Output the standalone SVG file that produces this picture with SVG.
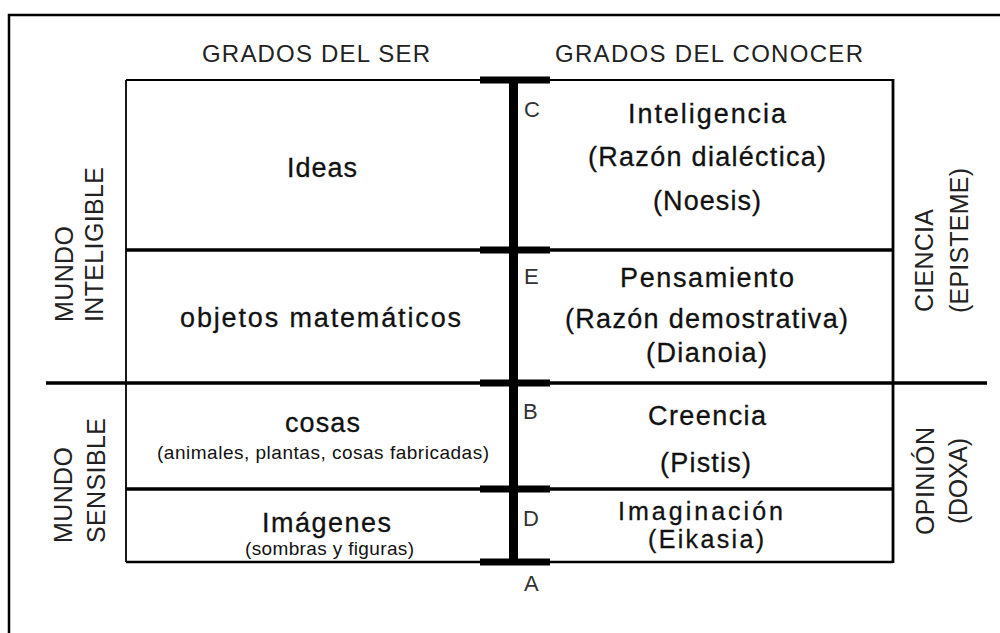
<svg xmlns="http://www.w3.org/2000/svg" width="1000" height="633" viewBox="0 0 1000 633">
<style>
.t{font-family:"Liberation Sans",Arial,sans-serif;fill:#111;}
.m{font-size:27px;stroke:#111;stroke-width:0.3px;}
.m2{font-size:25px;stroke:#111;stroke-width:0.3px;}
.s{font-size:19px;}
.h{font-size:24px;fill:#222;}
.side{font-size:25px;fill:#222;}
.lbl{font-size:22px;fill:#333;}
.ln{stroke:#000;fill:none;}
</style>
<rect width="1000" height="633" fill="#fff"/>
<path class="ln" d="M9,633 V15 H1000" stroke-width="2.5"/>
<g id="table">
<line class="ln" x1="126" y1="80" x2="893" y2="80" stroke-width="1.8"/>
<line class="ln" x1="126" y1="250" x2="893" y2="250" stroke-width="3.5"/>
<line class="ln" x1="46" y1="383" x2="987" y2="383" stroke-width="3.5"/>
<line class="ln" x1="126" y1="489" x2="893" y2="489" stroke-width="3.5"/>
<line class="ln" x1="126" y1="562" x2="893" y2="562" stroke-width="2.5"/>
<line class="ln" x1="126" y1="80" x2="126" y2="562" stroke-width="1.8"/>
<line class="ln" x1="893" y1="79" x2="893" y2="563" stroke-width="2.8"/>
</g>
<g id="connectors">
<rect x="509" y="77" width="9" height="488" fill="#000"/>
<rect x="480" y="76.5" width="70" height="7" fill="#000"/>
<rect x="480" y="246.5" width="70" height="7" fill="#000"/>
<rect x="480" y="379.5" width="70" height="7" fill="#000"/>
<rect x="480" y="485.5" width="70" height="7" fill="#000"/>
<rect x="480" y="558.5" width="70" height="7" fill="#000"/>
</g>
<g id="headers">
<text class="t h" x="202" y="62" textLength="228" lengthAdjust="spacing">GRADOS DEL SER</text>
<text class="t h" x="555" y="62" textLength="308" lengthAdjust="spacing">GRADOS DEL CONOCER</text>
</g>
<g id="ideas"><text class="t m" x="287" y="177" textLength="70" lengthAdjust="spacing">Ideas</text></g>
<g id="objetos"><text class="t m" x="180" y="327" textLength="281" lengthAdjust="spacing">objetos matemáticos</text></g>
<g id="cosas">
<text class="t m" x="285" y="432" textLength="75" lengthAdjust="spacing">cosas</text>
<text class="t s" x="157" y="459" textLength="332" lengthAdjust="spacing">(animales, plantas, cosas fabricadas)</text>
</g>
<g id="imagenes">
<text class="t m" x="262" y="532" textLength="129" lengthAdjust="spacing">Imágenes</text>
<text class="t s" x="245" y="555" textLength="169" lengthAdjust="spacing">(sombras y figuras)</text>
</g>
<g id="inteligencia">
<text class="t m" x="628" y="123" textLength="158" lengthAdjust="spacing">Inteligencia</text>
<text class="t m" x="588" y="166" textLength="238" lengthAdjust="spacing">(Razón dialéctica)</text>
<text class="t m" x="653" y="210" textLength="108" lengthAdjust="spacing">(Noesis)</text>
</g>
<g id="pensamiento">
<text class="t m" x="620" y="287" textLength="174" lengthAdjust="spacing">Pensamiento</text>
<text class="t m" x="565" y="328" textLength="283" lengthAdjust="spacing">(Razón demostrativa)</text>
<text class="t m" x="646" y="362" textLength="121" lengthAdjust="spacing">(Dianoia)</text>
</g>
<g id="creencia">
<text class="t m" x="648" y="425" textLength="118" lengthAdjust="spacing">Creencia</text>
<text class="t m" x="660" y="472" textLength="91" lengthAdjust="spacing">(Pistis)</text>
</g>
<g id="imaginacion">
<text class="t m2" x="618" y="520" textLength="165" lengthAdjust="spacing">Imaginación</text>
<text class="t m2" x="648" y="548" textLength="116" lengthAdjust="spacing">(Eikasia)</text>
</g>
<g id="letters">
<text class="t lbl" x="524" y="117">C</text>
<text class="t lbl" x="524" y="284">E</text>
<text class="t lbl" x="523" y="419">B</text>
<text class="t lbl" x="523" y="526">D</text>
<text class="t lbl" x="524" y="591">A</text>
</g>
<g id="mundo-inteligible">
<text class="t side" transform="translate(73,322) rotate(-90)" textLength="96" lengthAdjust="spacing">MUNDO</text>
<text class="t side" transform="translate(103,322) rotate(-90)" textLength="155" lengthAdjust="spacing">INTELIGIBLE</text>
</g>
<g id="mundo-sensible">
<text class="t side" transform="translate(72,543) rotate(-90)" textLength="96" lengthAdjust="spacing">MUNDO</text>
<text class="t side" transform="translate(105,543) rotate(-90)" textLength="125" lengthAdjust="spacing">SENSIBLE</text>
</g>
<g id="ciencia">
<text class="t side" transform="translate(933,312) rotate(-90)" textLength="103" lengthAdjust="spacing">CIENCIA</text>
<text class="t side" transform="translate(968,313) rotate(-90)" textLength="145" lengthAdjust="spacing">(EPISTEME)</text>
</g>
<g id="opinion">
<text class="t side" transform="translate(934,535) rotate(-90)" textLength="108" lengthAdjust="spacing">OPINIÓN</text>
<text class="t side" transform="translate(967,524) rotate(-90)" textLength="86" lengthAdjust="spacing">(DOXA)</text>
</g>
</svg>
